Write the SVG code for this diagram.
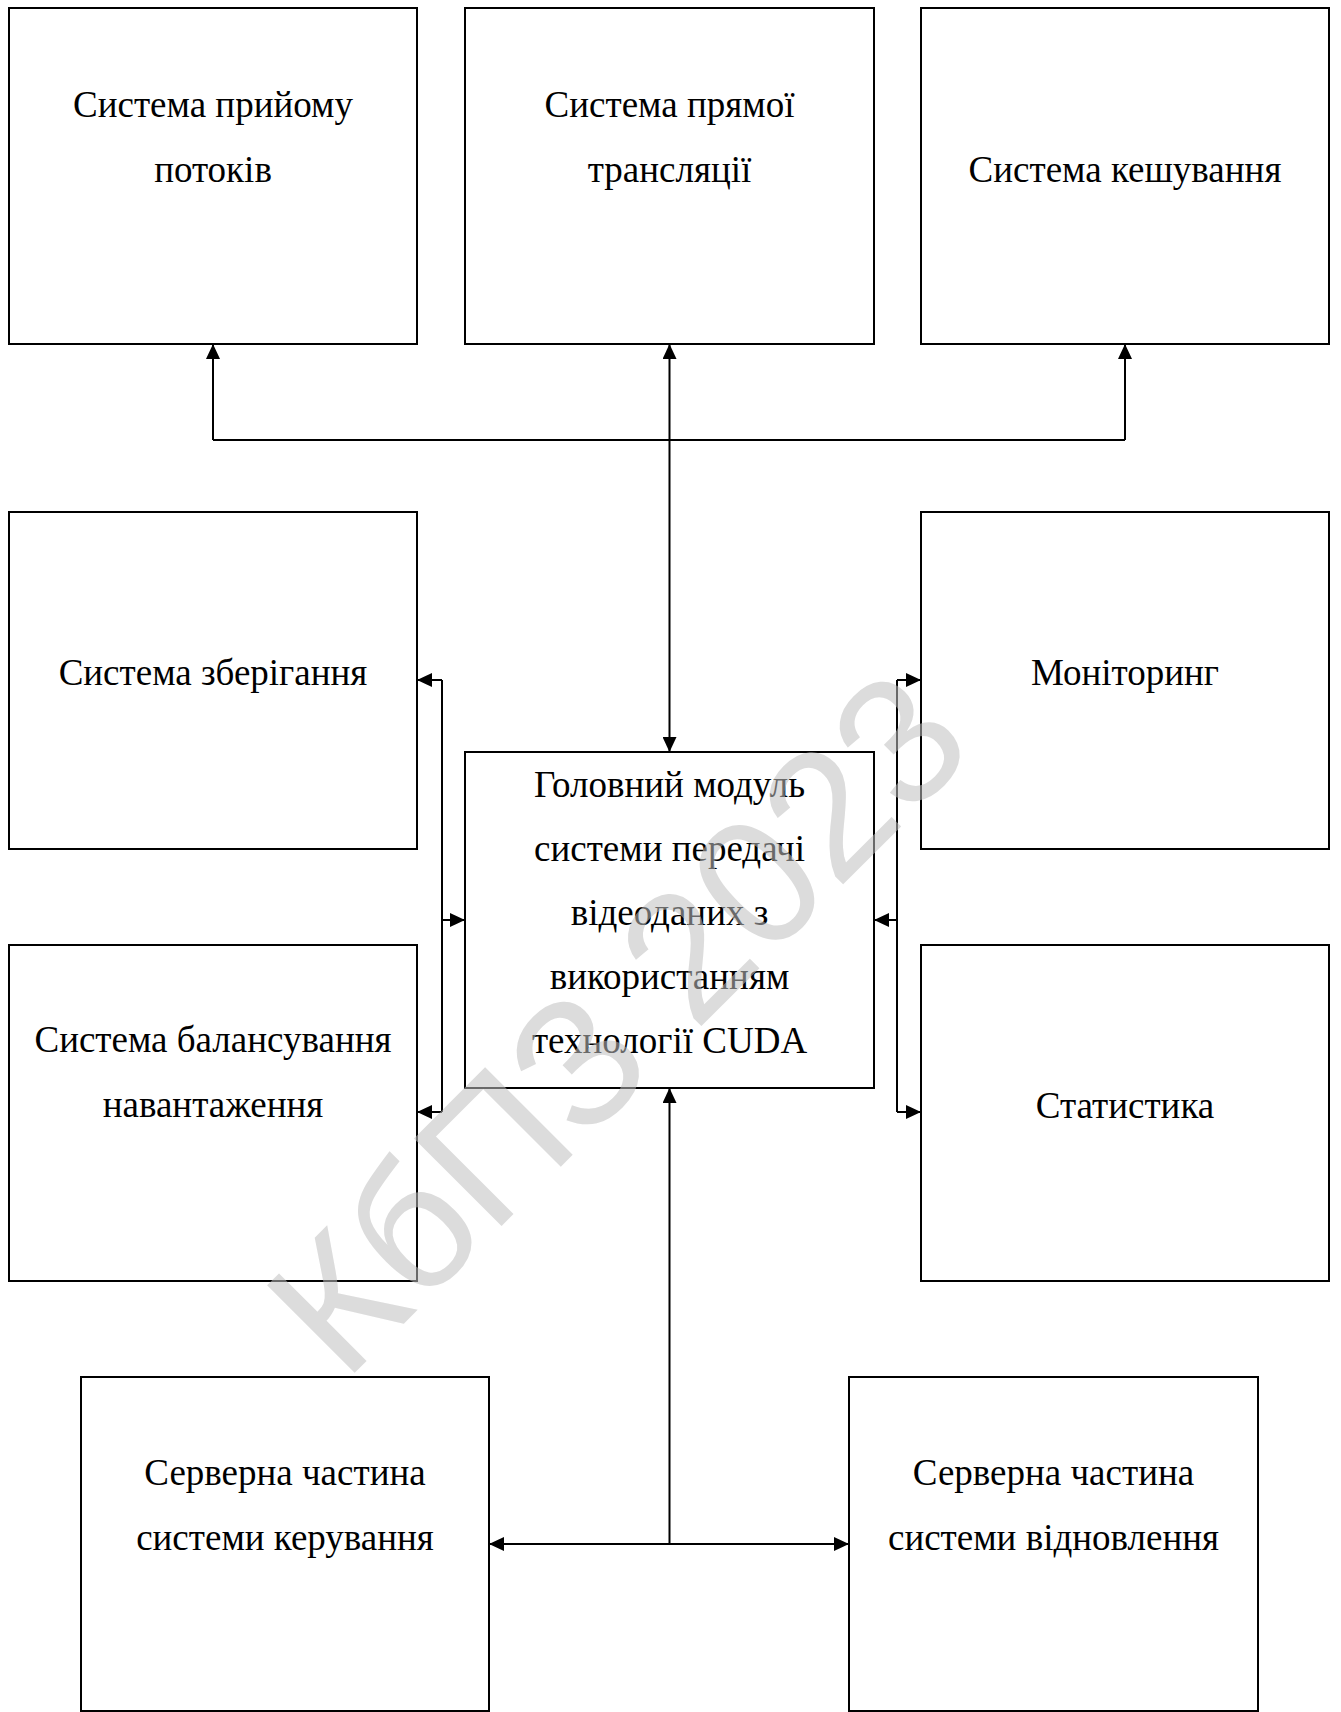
<svg xmlns="http://www.w3.org/2000/svg" width="1341" height="1712" viewBox="0 0 1341 1712">
<style>
.box{fill:#fff;stroke:#000;stroke-width:2}
.lbl{font-family:"Liberation Serif","Times New Roman",serif;font-size:37px;fill:#000;text-anchor:middle}
.con{fill:none;stroke:#000;stroke-width:2}
.wm{font-family:"Liberation Sans",Arial,sans-serif;font-size:180px;fill:#c0c0c0;opacity:0.55;text-anchor:middle}
</style>
<defs>
<marker id="arr" markerUnits="userSpaceOnUse" markerWidth="15" markerHeight="14" refX="15" refY="7" orient="auto-start-reverse">
<path d="M0,0 L15,7 L0,14 Z" fill="#000"/>
</marker>
</defs>
<rect width="1341" height="1712" fill="#fff"/>
<g id="n-priyom">
<rect class="box" x="9" y="8" width="408" height="336"/>
<text class="lbl" x="213" y="117">Система прийому</text>
<text class="lbl" x="213" y="182">потоків</text>
</g>
<g id="n-translyatsiya">
<rect class="box" x="465" y="8" width="409" height="336"/>
<text class="lbl" x="669.5" y="117">Система прямої</text>
<text class="lbl" x="669.5" y="182">трансляції</text>
</g>
<g id="n-keshuvannya">
<rect class="box" x="921" y="8" width="408" height="336"/>
<text class="lbl" x="1125" y="182">Система кешування</text>
</g>
<g id="n-zberigannya">
<rect class="box" x="9" y="512" width="408" height="337"/>
<text class="lbl" x="213" y="685">Система зберігання</text>
</g>
<g id="n-monitoring">
<rect class="box" x="921" y="512" width="408" height="337"/>
<text class="lbl" x="1125" y="685">Моніторинг</text>
</g>
<g id="n-main">
<rect class="box" x="465" y="752" width="409" height="336"/>
<text class="lbl" x="669.5" y="797">Головний модуль</text>
<text class="lbl" x="669.5" y="861">системи передачі</text>
<text class="lbl" x="669.5" y="925">відеоданих з</text>
<text class="lbl" x="669.5" y="989">використанням</text>
<text class="lbl" x="669.5" y="1053">технології CUDA</text>
</g>
<g id="n-balans">
<rect class="box" x="9" y="945" width="408" height="336"/>
<text class="lbl" x="213" y="1052">Система балансування</text>
<text class="lbl" x="213" y="1117">навантаження</text>
</g>
<g id="n-statystyka">
<rect class="box" x="921" y="945" width="408" height="336"/>
<text class="lbl" x="1125" y="1118">Статистика</text>
</g>
<g id="n-keruvannya">
<rect class="box" x="81" y="1377" width="408" height="334"/>
<text class="lbl" x="285" y="1485">Серверна частина</text>
<text class="lbl" x="285" y="1550">системи керування</text>
</g>
<g id="n-vidnovlennya">
<rect class="box" x="849" y="1377" width="409" height="334"/>
<text class="lbl" x="1053.5" y="1485">Серверна частина</text>
<text class="lbl" x="1053.5" y="1550">системи відновлення</text>
</g>
<g id="connectors">
<path class="con" d="M213,440 H1125"/>
<path class="con" d="M213,440 V344" marker-end="url(#arr)"/>
<path class="con" d="M1125,440 V344" marker-end="url(#arr)"/>
<path class="con" d="M669.5,344 V752" marker-start="url(#arr)" marker-end="url(#arr)"/>
<path class="con" d="M442,680 V1112"/>
<path class="con" d="M442,680 H417" marker-end="url(#arr)"/>
<path class="con" d="M442,1112 H417" marker-end="url(#arr)"/>
<path class="con" d="M442,920 H465" marker-end="url(#arr)"/>
<path class="con" d="M897,680 V1112"/>
<path class="con" d="M897,680 H921" marker-end="url(#arr)"/>
<path class="con" d="M897,1112 H921" marker-end="url(#arr)"/>
<path class="con" d="M897,920 H874" marker-end="url(#arr)"/>
<path class="con" d="M669.5,1544 V1088" marker-end="url(#arr)"/>
<path class="con" d="M489,1544 H849" marker-start="url(#arr)" marker-end="url(#arr)"/>
</g>
<g id="watermark">
<text class="wm" transform="translate(616,1021) rotate(-45)" x="0" y="64">КбПЗ 2023</text>
</g>
</svg>
